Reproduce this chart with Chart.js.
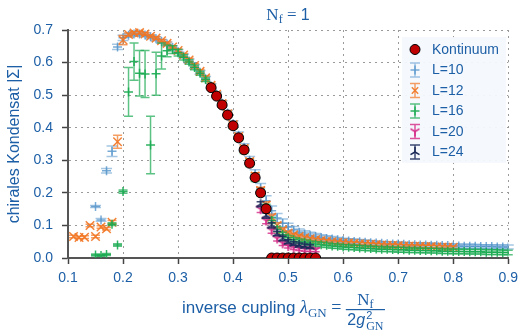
<!DOCTYPE html>
<html>
<head>
<meta charset="utf-8">
<script src="https://cdn.jsdelivr.net/npm/chart.js@4.4.1/dist/chart.umd.min.js"></script>
<style>
  html, body { margin: 0; padding: 0; background: #fff; }
  canvas { display: block; }
</style>
</head>
<body>
<canvas id="chart" width="524" height="331"></canvas>
<script>
// continuum limit: [lambda, |Sigma|]
const kontinuum = [
  [0.36, 0.523], [0.37, 0.497], [0.38, 0.470], [0.39, 0.439], [0.40, 0.406], [0.41, 0.369],
  [0.42, 0.332], [0.43, 0.291], [0.44, 0.247], [0.45, 0.200], [0.46, 0.151], [0.47, 0],
  [0.48, 0], [0.49, 0], [0.50, 0], [0.51, 0], [0.52, 0], [0.53, 0], [0.54, 0], [0.55, 0]
];

// lattice data: [lambda, |Sigma|, error]
const l10 = [
  [0.15, 0.158, 0.003], [0.16, 0.117, 0.004], [0.17, 0.268, 0.007], [0.18, 0.328, 0.016], [0.19, 0.648, 0.008],
  [0.20, 0.676, 0.008], [0.21, 0.684, 0.006], [0.22, 0.688, 0.006], [0.23, 0.688, 0.006], [0.24, 0.685, 0.006],
  [0.25, 0.679, 0.006], [0.26, 0.673, 0.006], [0.27, 0.665, 0.006], [0.28, 0.657, 0.006], [0.29, 0.646, 0.006],
  [0.30, 0.634, 0.006], [0.31, 0.620, 0.006], [0.32, 0.605, 0.006], [0.33, 0.588, 0.006], [0.34, 0.570, 0.006],
  [0.35, 0.550, 0.007], [0.36, 0.528, 0.007], [0.37, 0.503, 0.007], [0.38, 0.475, 0.008], [0.39, 0.445, 0.008],
  [0.40, 0.412, 0.009], [0.41, 0.377, 0.010], [0.42, 0.340, 0.011], [0.43, 0.300, 0.012], [0.44, 0.258, 0.013],
  [0.45, 0.215, 0.014], [0.46, 0.176, 0.015], [0.47, 0.145, 0.015], [0.48, 0.123, 0.014], [0.49, 0.107, 0.013],
  [0.50, 0.095, 0.012], [0.51, 0.086, 0.011], [0.52, 0.079, 0.010], [0.53, 0.074, 0.010], [0.54, 0.070, 0.009],
  [0.55, 0.066, 0.009], [0.56, 0.063, 0.008], [0.57, 0.060, 0.008], [0.58, 0.058, 0.008], [0.59, 0.056, 0.007],
  [0.60, 0.054, 0.007], [0.61, 0.052, 0.007], [0.62, 0.051, 0.007], [0.63, 0.050, 0.007], [0.64, 0.048, 0.007],
  [0.65, 0.047, 0.007], [0.66, 0.046, 0.006], [0.67, 0.045, 0.006], [0.68, 0.044, 0.006], [0.69, 0.043, 0.006],
  [0.70, 0.043, 0.006], [0.71, 0.042, 0.006], [0.72, 0.041, 0.006], [0.73, 0.041, 0.006], [0.74, 0.040, 0.006],
  [0.75, 0.040, 0.006], [0.76, 0.039, 0.006], [0.77, 0.039, 0.006], [0.78, 0.038, 0.006], [0.79, 0.038, 0.006],
  [0.80, 0.037, 0.006], [0.81, 0.037, 0.006], [0.82, 0.036, 0.006], [0.83, 0.036, 0.006], [0.84, 0.036, 0.006],
  [0.85, 0.035, 0.006], [0.86, 0.035, 0.006], [0.87, 0.035, 0.006], [0.88, 0.034, 0.006], [0.89, 0.034, 0.006],
  [0.90, 0.034, 0.006]
];
const l12 = [
  [0.11, 0.066, 0.004], [0.12, 0.063, 0.004], [0.13, 0.064, 0.004], [0.14, 0.100, 0.004], [0.15, 0.066, 0.004],
  [0.16, 0.095, 0.004], [0.17, 0.090, 0.004], [0.18, 0.110, 0.005], [0.19, 0.357, 0.020], [0.20, 0.669, 0.014],
  [0.21, 0.686, 0.005], [0.22, 0.691, 0.004], [0.23, 0.692, 0.004], [0.24, 0.688, 0.004], [0.25, 0.681, 0.004],
  [0.26, 0.675, 0.004], [0.27, 0.667, 0.004], [0.28, 0.659, 0.004], [0.29, 0.648, 0.004], [0.30, 0.637, 0.005],
  [0.31, 0.623, 0.005], [0.32, 0.608, 0.005], [0.33, 0.591, 0.005], [0.34, 0.573, 0.005], [0.35, 0.553, 0.006],
  [0.36, 0.530, 0.006], [0.37, 0.503, 0.006], [0.38, 0.474, 0.007], [0.39, 0.443, 0.007], [0.40, 0.410, 0.008],
  [0.41, 0.373, 0.008], [0.42, 0.336, 0.009], [0.43, 0.296, 0.009], [0.44, 0.252, 0.010], [0.45, 0.207, 0.010],
  [0.46, 0.163, 0.010], [0.47, 0.125, 0.009], [0.48, 0.100, 0.008], [0.49, 0.086, 0.007], [0.50, 0.077, 0.006],
  [0.51, 0.071, 0.005], [0.52, 0.066, 0.005], [0.53, 0.062, 0.005], [0.54, 0.059, 0.004], [0.55, 0.057, 0.004],
  [0.56, 0.054, 0.004], [0.57, 0.052, 0.004], [0.58, 0.050, 0.004], [0.59, 0.048, 0.004], [0.60, 0.047, 0.004],
  [0.61, 0.046, 0.004], [0.62, 0.045, 0.004], [0.63, 0.044, 0.004], [0.64, 0.043, 0.004], [0.65, 0.042, 0.004],
  [0.66, 0.041, 0.004], [0.67, 0.040, 0.004], [0.68, 0.039, 0.004], [0.69, 0.039, 0.004], [0.70, 0.038, 0.004],
  [0.71, 0.037, 0.004], [0.72, 0.037, 0.004], [0.73, 0.036, 0.004], [0.74, 0.036, 0.004], [0.75, 0.035, 0.004],
  [0.76, 0.035, 0.004], [0.77, 0.034, 0.004], [0.78, 0.034, 0.004], [0.79, 0.033, 0.004], [0.80, 0.033, 0.004]
];
const l16 = [
  [0.15, 0.009, 0.003], [0.16, 0.008, 0.003], [0.17, 0.011, 0.003], [0.18, 0.104, 0.004], [0.19, 0.040, 0.004],
  [0.20, 0.204, 0.005], [0.21, 0.510, 0.075], [0.22, 0.603, 0.057], [0.23, 0.567, 0.070], [0.24, 0.565, 0.072],
  [0.25, 0.347, 0.088], [0.26, 0.566, 0.066], [0.27, 0.620, 0.040], [0.28, 0.636, 0.018], [0.29, 0.640, 0.012],
  [0.30, 0.630, 0.010], [0.31, 0.616, 0.008], [0.32, 0.602, 0.007], [0.33, 0.585, 0.007], [0.34, 0.567, 0.006],
  [0.35, 0.548, 0.006], [0.36, 0.526, 0.006], [0.37, 0.500, 0.006], [0.38, 0.470, 0.007], [0.39, 0.440, 0.007],
  [0.40, 0.405, 0.008], [0.41, 0.368, 0.008], [0.42, 0.330, 0.009], [0.43, 0.290, 0.009], [0.44, 0.245, 0.010],
  [0.45, 0.200, 0.010], [0.46, 0.155, 0.010], [0.47, 0.115, 0.009], [0.48, 0.088, 0.008], [0.49, 0.072, 0.007],
  [0.50, 0.062, 0.007], [0.51, 0.056, 0.007], [0.52, 0.051, 0.007], [0.53, 0.048, 0.007], [0.54, 0.045, 0.007],
  [0.55, 0.043, 0.007], [0.56, 0.041, 0.007], [0.57, 0.039, 0.007], [0.58, 0.037, 0.007], [0.59, 0.036, 0.007],
  [0.60, 0.034, 0.007], [0.61, 0.033, 0.007], [0.62, 0.032, 0.007], [0.63, 0.031, 0.007], [0.64, 0.030, 0.007],
  [0.65, 0.029, 0.007], [0.66, 0.028, 0.007], [0.67, 0.027, 0.007], [0.68, 0.027, 0.007], [0.69, 0.026, 0.007],
  [0.70, 0.025, 0.007], [0.71, 0.025, 0.007], [0.72, 0.024, 0.007], [0.73, 0.024, 0.007], [0.74, 0.023, 0.007],
  [0.75, 0.023, 0.007], [0.76, 0.022, 0.007], [0.77, 0.022, 0.007], [0.78, 0.021, 0.007], [0.79, 0.021, 0.007],
  [0.80, 0.020, 0.007], [0.81, 0.020, 0.007], [0.82, 0.020, 0.007], [0.83, 0.019, 0.007], [0.84, 0.019, 0.007],
  [0.85, 0.019, 0.007], [0.86, 0.018, 0.007], [0.87, 0.018, 0.007], [0.88, 0.018, 0.007], [0.89, 0.017, 0.007],
  [0.90, 0.017, 0.007]
];
const l20 = [
  [0.45, 0.150, 0.010], [0.46, 0.115, 0.010], [0.47, 0.085, 0.009], [0.48, 0.060, 0.008], [0.49, 0.045, 0.007],
  [0.50, 0.037, 0.006], [0.51, 0.032, 0.006], [0.52, 0.029, 0.006], [0.53, 0.027, 0.006], [0.54, 0.026, 0.006],
  [0.55, 0.025, 0.006]
];
const l24 = [
  [0.45, 0.165, 0.008], [0.46, 0.130, 0.008], [0.47, 0.100, 0.008], [0.48, 0.075, 0.007], [0.49, 0.060, 0.007],
  [0.50, 0.050, 0.006], [0.51, 0.044, 0.006], [0.52, 0.040, 0.006], [0.53, 0.037, 0.006], [0.54, 0.035, 0.006]
];

const TEXT = '#1d5fa6';
const SANS = '"Liberation Sans", Arial, sans-serif';
const SERIF = '"Liberation Serif", "DejaVu Serif", serif';

// small "Y" shaped marker (tri_down / tri_up)
function triMarker(color, down) {
  const c = document.createElement('canvas');
  c.width = 12; c.height = 12;
  const g = c.getContext('2d');
  g.strokeStyle = color;
  g.lineWidth = 1.5;
  const s = down ? 1 : -1;
  g.beginPath();
  g.moveTo(6, 6); g.lineTo(6, 6 + 5 * s);
  g.moveTo(6, 6); g.lineTo(6 - 4.5, 6 - 2.6 * s);
  g.moveTo(6, 6); g.lineTo(6 + 4.5, 6 - 2.6 * s);
  g.stroke();
  return c;
}

function lattice(label, rows, color, barColor, style, radius, cap, order) {
  return {
    label,
    data: rows.map(r => ({ x: r[0], y: r[1] })),
    errors: rows.map(r => r[2]),
    barColor, cap, order,
    borderColor: color,
    backgroundColor: color,
    pointStyle: style,
    pointRadius: radius,
    pointBorderWidth: 1.5,
    showLine: false,
    clip: { left: 5, top: 5, right: 0, bottom: 0 }
  };
}

const datasets = [
  {
    label: 'Kontinuum',
    data: kontinuum.map(r => ({ x: r[0], y: r[1] })),
    backgroundColor: '#c00000',
    borderColor: '#000',
    pointRadius: 5,
    pointBorderWidth: 1,
    pointStyle: 'circle',
    order: 0,
    clip: { left: 5, top: 5, right: 0, bottom: 0 }
  },
  lattice('L=10', l10, 'rgba(74,141,199,0.75)', 'rgba(74,141,199,0.5)', 'cross', 4.5, 11, 5),
  lattice('L=12', l12, 'rgba(242,118,34,0.9)', 'rgba(242,118,34,0.7)', 'crossRot', 6, 9, 4),
  lattice('L=16', l16, 'rgba(24,170,80,0.9)', 'rgba(24,170,80,0.7)', 'cross', 4.5, 9, 3),
  lattice('L=20', l20, '#d42a86', 'rgba(212,42,134,0.8)', triMarker('#d42a86', true), 5, 8, 2),
  lattice('L=24', l24, '#1c2b5a', 'rgba(28,43,90,0.85)', triMarker('#1c2b5a', false), 5, 8, 1)
];

const errorBars = {
  id: 'errorBars',
  beforeDatasetDraw(chart, args) {
    const ds = chart.data.datasets[args.index];
    if (!ds.errors) return;
    const { ctx, scales: { x, y } } = chart;
    const w = ds.cap / 2;
    ctx.save();
    ctx.strokeStyle = ds.barColor;
    ctx.lineWidth = 1.5;
    ds.data.forEach((p, i) => {
      const px = x.getPixelForValue(p.x);
      const top = y.getPixelForValue(p.y + ds.errors[i]);
      const bot = y.getPixelForValue(p.y - ds.errors[i]);
      ctx.beginPath();
      ctx.moveTo(px, top); ctx.lineTo(px, bot);
      ctx.moveTo(px - w, top); ctx.lineTo(px + w, top);
      ctx.moveTo(px - w, bot); ctx.lineTo(px + w, bot);
      ctx.stroke();
    });
    ctx.restore();
  }
};

function runWidth(ctx, parts) {
  let w = 0;
  parts.forEach(p => { ctx.font = p.font; w += ctx.measureText(p.text).width; });
  return w;
}
function drawRun(ctx, parts, x, y) {
  parts.forEach(p => {
    ctx.font = p.font;
    ctx.fillText(p.text, x, y + (p.dy || 0));
    x += ctx.measureText(p.text).width;
  });
  return x;
}

const texts = {
  id: 'texts',
  afterDraw(chart) {
    const ctx = chart.ctx;
    ctx.save();
    ctx.fillStyle = TEXT;
    ctx.textBaseline = 'alphabetic';
    ctx.textAlign = 'left';

    // title N_f = 1
    const title = [
      { text: 'N', font: `17px ${SERIF}` },
      { text: 'f', font: `12px ${SERIF}`, dy: 3 },
      { text: ' = ', font: `17px ${SERIF}` },
      { text: '1', font: `16px ${SANS}` }
    ];
    drawRun(ctx, title, 288 - runWidth(ctx, title) / 2, 20);

    // x axis title with fraction
    let x = drawRun(ctx, [
      { text: 'inverse cupling ', font: `17px ${SANS}` },
      { text: 'λ', font: `italic 18px ${SERIF}` },
      { text: 'GN', font: `13px ${SERIF}`, dy: 4 },
      { text: ' = ', font: `18px ${SERIF}` }
    ], 182, 313);
    const num = [
      { text: 'N', font: `17px ${SERIF}` },
      { text: 'f', font: `12px ${SERIF}`, dy: 3 }
    ];
    ctx.font = `16px ${SANS}`;
    const w2g = ctx.measureText('2').width;
    ctx.font = `italic 16px ${SANS}`;
    const wg = ctx.measureText('g').width;
    ctx.font = `12px ${SERIF}`;
    const wGN = ctx.measureText('GN').width;
    const denW = w2g + wg + 1 + wGN;
    const fracW = denW + 3;
    ctx.fillRect(x, 309, fracW, 1.2);
    drawRun(ctx, num, x + (fracW - runWidth(ctx, num)) / 2, 305);
    let dx = x + 1.5;
    ctx.font = `16px ${SANS}`;
    ctx.fillText('2', dx, 325); dx += w2g;
    ctx.font = `italic 16px ${SANS}`;
    ctx.fillText('g', dx, 325); dx += wg + 1;
    ctx.font = `11px ${SANS}`;
    ctx.fillText('2', dx, 319);
    ctx.font = `12px ${SERIF}`;
    ctx.fillText('GN', dx, 330);

    // legend
    const lx = 402, ly = 37, lw = 104, lh = 126;
    ctx.fillStyle = 'rgba(244,248,253,0.95)';
    ctx.fillRect(lx, ly, lw, lh);
    chart.data.datasets.forEach((ds, i) => {
      const cy = 49.5 + i * 20.5;
      const cx = 415;
      if (ds.errors) {
        ctx.strokeStyle = ds.barColor;
        ctx.lineWidth = 1.5;
        ctx.beginPath();
        ctx.moveTo(cx, cy - 7); ctx.lineTo(cx, cy + 7);
        ctx.moveTo(cx - 5, cy - 7); ctx.lineTo(cx + 5, cy - 7);
        ctx.moveTo(cx - 5, cy + 7); ctx.lineTo(cx + 5, cy + 7);
        ctx.stroke();
        ctx.strokeStyle = ds.borderColor;
        ctx.fillStyle = ds.backgroundColor;
        Chart.helpers.drawPoint(ctx, { pointStyle: ds.pointStyle, rotation: 0, radius: Math.min(ds.pointRadius, 4.5), borderWidth: 1.5 }, cx, cy);
      } else {
        ctx.strokeStyle = ds.borderColor;
        ctx.fillStyle = ds.backgroundColor;
        ctx.lineWidth = 1;
        ctx.beginPath();
        ctx.arc(cx, cy, 5, 0, Math.PI * 2);
        ctx.fill();
        ctx.stroke();
      }
      ctx.fillStyle = TEXT;
      ctx.font = `14px ${SANS}`;
      ctx.textBaseline = 'middle';
      ctx.fillText(ds.label, 432, cy + 0.5);
      ctx.textBaseline = 'alphabetic';
    });
    ctx.restore();
  }
};

new Chart(document.getElementById('chart'), {
  type: 'scatter',
  data: { datasets },
  options: {
    responsive: false,
    animation: false,
    devicePixelRatio: 1,
    layout: { padding: { top: 30, right: 12, left: 0, bottom: 0 } },
    plugins: { legend: { display: false }, tooltip: { enabled: false } },
    scales: {
      x: {
        type: 'linear', min: 0.1, max: 0.9,
        afterFit: s => { s.height = 73; },
        ticks: { stepSize: 0.1, color: TEXT, font: { family: SANS, size: 14 }, padding: 6, callback: v => v.toFixed(1) },
        grid: { color: '#9a9a9a', lineWidth: 1, tickLength: 6, tickColor: '#444', tickWidth: 1.5 },
        border: { color: '#555', width: 2, dash: [2, 4] }
      },
      y: {
        min: 0, max: 0.7,
        afterFit: s => { s.width = 68; },
        ticks: { stepSize: 0.1, color: TEXT, font: { family: SANS, size: 14 }, padding: 9, callback: v => v.toFixed(1) },
        grid: { color: '#9a9a9a', lineWidth: 1, tickLength: 6, tickColor: '#444', tickWidth: 1.5 },
        border: { color: '#555', width: 2, dash: [2, 4] },
        title: { display: true, text: 'chirales Kondensat |Σ|', color: TEXT, font: { family: SANS, size: 16 }, padding: { top: 5, bottom: 0 } }
      }
    }
  },
  plugins: [errorBars, texts]
});
</script>
</body>
</html>
